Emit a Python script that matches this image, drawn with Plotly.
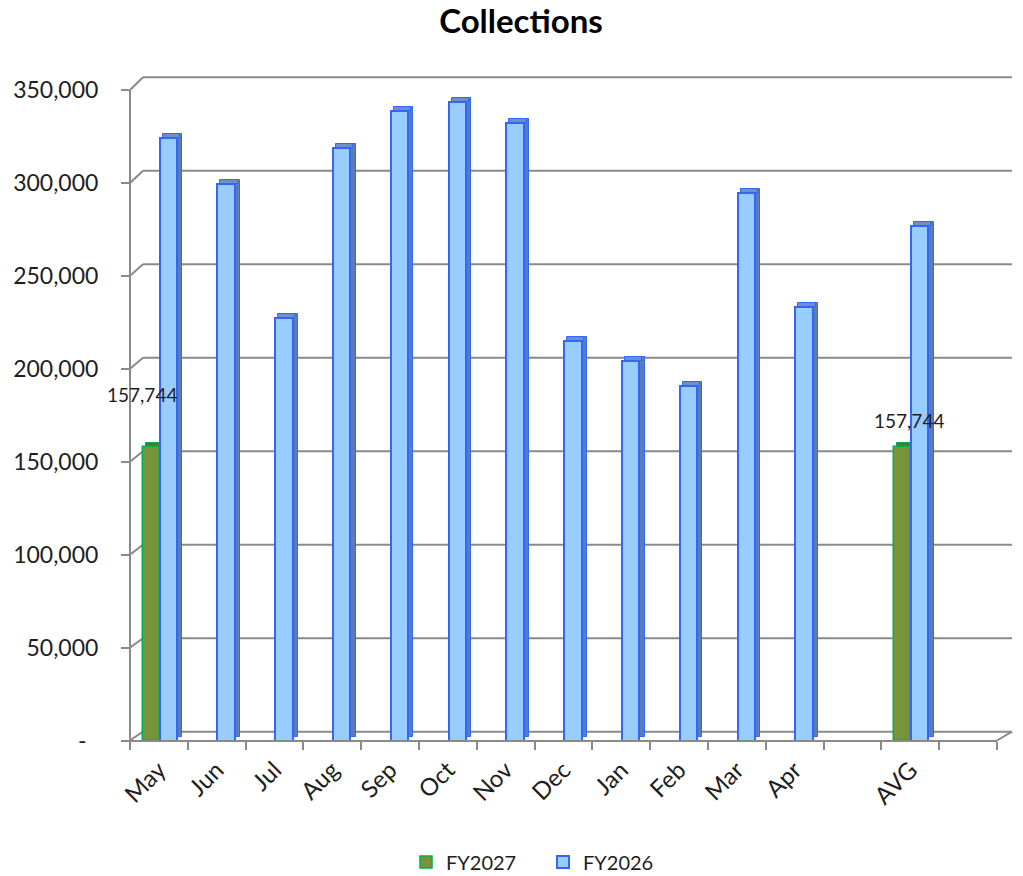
import plotly.graph_objects as go

# ---------------- data ----------------
categories = ["May", "Jun", "Jul", "Aug", "Sep", "Oct", "Nov", "Dec",
              "Jan", "Feb", "Mar", "Apr", " ", "AVG", "  "]
fy2027 = [157744, None, None, None, None, None, None, None,
          None, None, None, None, None, 157744, None]
fy2026 = [324000, 299500, 227500, 319000, 338500, 343500, 332500, 215000,
          204000, 191000, 294500, 233000, None, 277000, None]
y_tickvals = [0, 50000, 100000, 150000, 200000, 250000, 300000, 350000]
y_ticktext = ["-\u00a0\u00a0", "50,000", "100,000", "150,000", "200,000",
              "250,000", "300,000", "350,000"]
label_xshift = [-17, 0, 0, 0, 0, 0, 0, 0, 0, 0, 0, 0, 0, -1, 0]
label_yshift = [53, 0, 0, 0, 0, 0, 0, 0, 0, 0, 0, 0, 0, 27, 0]

# ---------------- layout geometry (pixels, screen coords) ----------------
W, H = 1023, 876
OFF = 8                                   # page body margin offset
L, R, T, B = 130, 1012, 75, 748          # plot area edges (screen)
X_END = 997                               # end of category axis
Y0_PX, YTOP_PX = 740.5, 90.0              # front axis: 0 and 350k
BACK0_PX, BACKTOP_PX = 731.7, 77.2        # back wall: 0 and 350k
WALL_X = 143                              # back wall left edge
YMAX = 350000

s1 = (Y0_PX - YTOP_PX) / YMAX
s2 = (BACK0_PX - BACKTOP_PX) / YMAX
y_range = [-(B - Y0_PX) / s1, YMAX + (YTOP_PX - T) / s1]
pw = R - L


def px(xp):
    return (xp - L) / pw


def back(v):
    return v * s2 / s1 + (Y0_PX - BACK0_PX) / s1


DEPTH = 4 / s1  # 3D depth (4 px) in data units

GRID = "#8a8a8a"
TXT = "#1e1e1e"
FONT = "Lato"

fig = go.Figure()

def shifted(vals, d):
    return [None if v is None else d for v in vals]

# green top face
fig.add_trace(go.Bar(x=categories, y=shifted(fy2027, DEPTH), base=fy2027,
                     offset=-0.225, width=0.29, marker=dict(color="#5C7330", line=dict(color="#00B050", width=1)),
                     showlegend=False, hoverinfo="skip"))
# green front
fig.add_trace(go.Bar(x=categories, y=fy2027, name="FY2027", offset=-0.275, width=0.29,
                     marker=dict(color="#77933C", line=dict(color="#00B050", width=1.5))))
# blue side face
fig.add_trace(go.Bar(x=categories, y=fy2026, base=shifted(fy2026, DEPTH),
                     offset=0.313, width=0.09,
                     marker=dict(color="#5A7DB5", line=dict(color="#3366FF", width=1)),
                     showlegend=False, hoverinfo="skip"))
# blue top face
fig.add_trace(go.Bar(x=categories, y=shifted(fy2026, DEPTH), base=fy2026,
                     offset=0.063, width=0.3,
                     marker=dict(color="#6F8FCB", line=dict(color="#3366FF", width=1)),
                     showlegend=False, hoverinfo="skip"))
# blue front
fig.add_trace(go.Bar(x=categories, y=fy2026, name="FY2026", offset=0.013, width=0.3,
                     marker=dict(color="#99CCFF", line=dict(color="#3366FF", width=2))))

# back wall gridlines + left wall diagonals
shapes = []
for v in y_tickvals:
    shapes.append(dict(type="line", xref="paper", yref="y", x0=px(WALL_X), x1=px(R),
                       y0=back(v), y1=back(v), line=dict(color=GRID, width=2), layer="below"))
    shapes.append(dict(type="line", xref="paper", yref="y", x0=px(L), x1=px(WALL_X),
                       y0=v, y1=back(v), line=dict(color=GRID, width=2), layer="below"))
# floor right edge
shapes.append(dict(type="line", xref="paper", yref="y", x0=px(X_END), x1=px(R),
                   y0=0, y1=back(0), line=dict(color=GRID, width=2), layer="below"))
# vertical axis line
shapes.append(dict(type="line", xref="paper", yref="y", x0=0, x1=0,
                   y0=-3000, y1=YMAX, line=dict(color=GRID, width=2), layer="below"))

# data labels
annotations = []
for c, v, dx, dy in zip(categories, fy2027, label_xshift, label_yshift):
    if v is not None:
        annotations.append(dict(x=c, y=v, xref="x", yref="y", text=f"{v:,}", showarrow=False,
                                xshift=dx, yshift=dy, yanchor="middle",
                                font=dict(family=FONT, size=19, color=TXT)))

fig.update_layout(
    width=W, height=H,
    margin=dict(l=L - OFF, r=W - (R - OFF), t=T - OFF, b=H - (B - OFF), pad=0, autoexpand=False),
    paper_bgcolor="white", plot_bgcolor="white",
    barmode="overlay",
    title=dict(text="<b>Collections</b>", x=(521 - OFF) / W, xref="container", xanchor="center",
               y=1 - 2 / H, yref="container", yanchor="top", pad=dict(t=0, b=0),
               font=dict(family=FONT, size=33, color="#000000")),
    xaxis=dict(type="category", categoryorder="array", categoryarray=categories,
               range=[-0.5, len(categories) - 0.5], domain=[0, px(X_END)],
               anchor="free", position=(B - Y0_PX) / (B - T), automargin=False,
               showline=True, linecolor=GRID, linewidth=2,
               ticks="outside", tickson="boundaries", ticklen=8, tickcolor=GRID, tickwidth=2,
               tickangle=-45, ticklabelstandoff=5,
               tickfont=dict(family=FONT, size=24, color=TXT),
               showgrid=False, zeroline=False),
    yaxis=dict(range=y_range, tickvals=y_tickvals, ticktext=y_ticktext, automargin=False,
               showline=False, showgrid=False, zeroline=False,
               ticks="outside", ticklen=8, tickcolor=GRID, tickwidth=2,
               ticklabelstandoff=18,
               tickfont=dict(family=FONT, size=23, color=TXT)),
    legend=dict(orientation="h", x=(406 - OFF) / W, xref="container", xanchor="left",
                y=1 - (862 - OFF) / H, yref="container", yanchor="middle",
                entrywidth=92, entrywidthmode="pixels",
                font=dict(family=FONT, size=20, color=TXT),
                traceorder="normal"),
    shapes=shapes, annotations=annotations,
    bargap=0,
)

fig.write_html("out.html")
